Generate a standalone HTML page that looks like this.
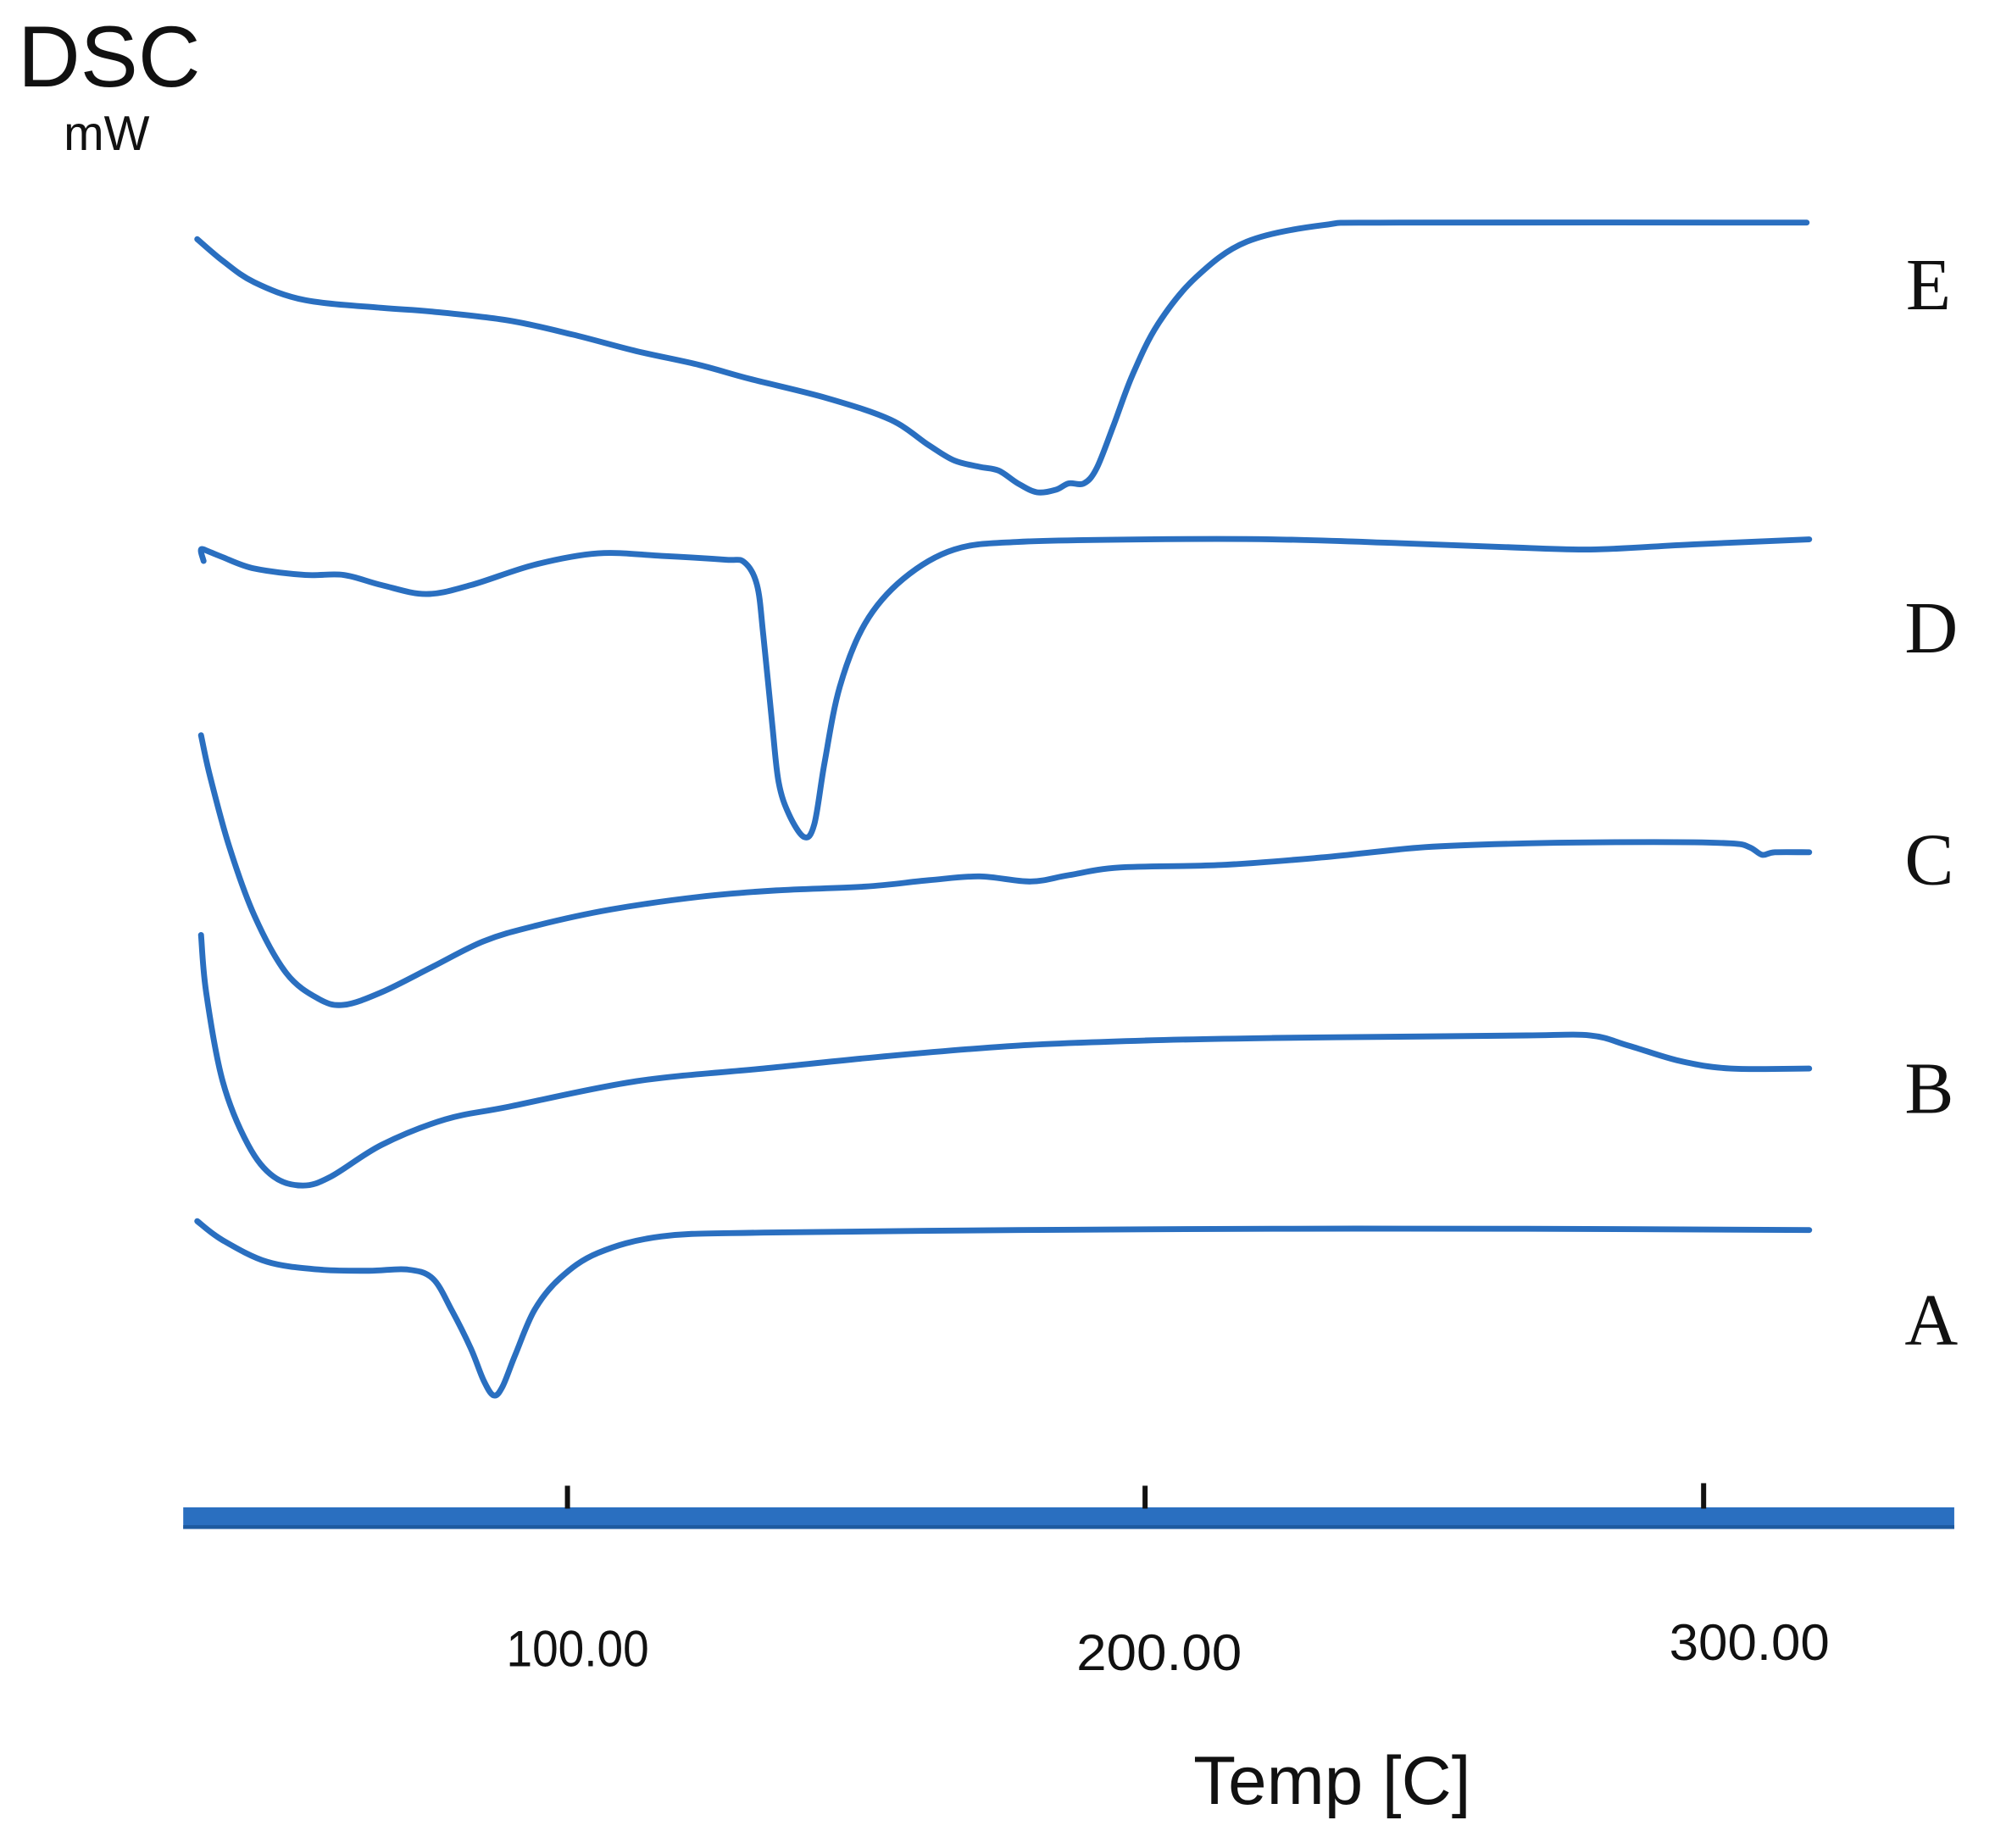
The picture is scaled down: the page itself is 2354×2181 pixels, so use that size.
<!DOCTYPE html>
<html><head><meta charset="utf-8"><style>
html,body{margin:0;padding:0;background:#fff;}
svg{display:block;}
</style></head><body>
<svg id="s" width="2354" height="2181" viewBox="0 0 1568 1452.8" xmlns="http://www.w3.org/2000/svg">
<rect width="1568" height="1453" fill="#fff"/>
<text x="14" y="68" font-family="Liberation Sans, sans-serif" font-size="68" fill="#111">DSC</text>
<text x="50" y="118" font-family="Liberation Sans, sans-serif" font-size="38" fill="#111">mW</text>
<g id="curves" fill="none" stroke="#2a6fc0" stroke-width="4.6" stroke-linejoin="round" stroke-linecap="round">
<polyline points="155,188 175,205 200,222 240,236 300,242 340,245 400,252 450,263 500,276 550,287 590,298 650,313 700,330 730,350 750,362 770,367 785,370 800,380 815,387 830,385 840,380 852,380 862,368 875,335 890,295 910,255 940,218 980,190 1040,177 1100,175 1420,175"/>
<polyline points="160,441 158,432 165,434 175,438 200,447 240,452 270,452 300,460 335,467 370,460 420,444 470,435 520,437 570,440 585,442 595,460 600,500 607,570 612,615 620,640 632,658 640,648 648,600 660,540 680,490 710,455 750,432 800,426 900,424 1000,424 1100,427 1180,430 1250,432 1330,428 1422,424"/>
<polyline points="158,578 165,610 180,665 200,720 225,765 250,785 270,790 300,780 340,760 380,740 420,728 480,715 550,705 610,700 680,697 730,692 770,689 810,693 840,688 880,682 960,680 1040,674 1120,666 1200,663 1300,662 1360,663 1375,666 1385,672 1395,670 1422,670"/>
<polyline points="158,735 162,780 175,850 195,900 215,925 238,932 260,925 300,900 350,880 400,870 500,850 600,840 700,830 800,822 900,818 1000,816 1100,815 1200,814 1250,814 1280,822 1320,834 1360,840 1422,840"/>
<polyline points="155,960 175,975 210,992 250,998 290,999 320,998 340,1005 355,1030 370,1060 380,1085 388,1097 395,1090 405,1065 420,1030 440,1005 470,985 520,972 600,969 800,967 1000,966 1200,966 1422,967"/>
</g>
<g font-family="Liberation Serif, serif" font-size="58" fill="#111">
<text x="1498" y="243">E</text>
<text x="1497" y="513">D</text>
<text x="1497" y="695">C</text>
<text x="1497" y="875">B</text>
<text x="1497" y="1057">A</text>
</g>
<rect x="144" y="1185" width="1392" height="17" fill="#2a6fc0"/>
<rect x="144" y="1199" width="1392" height="3" fill="#1d5aa0"/>
<rect x="444" y="1168" width="4" height="18" fill="#111"/>
<rect x="898" y="1168" width="4" height="18" fill="#111"/>
<rect x="1337" y="1166" width="4" height="20" fill="#111"/>
<g font-family="Liberation Sans, sans-serif" font-size="40" fill="#111">
<text x="398" y="1310" textLength="112" lengthAdjust="spacingAndGlyphs">100.00</text>
<text x="846" y="1313" textLength="130" lengthAdjust="spacingAndGlyphs">200.00</text>
<text x="1312" y="1305" textLength="126" lengthAdjust="spacingAndGlyphs">300.00</text>
</g>
<text x="938" y="1418" font-family="Liberation Sans, sans-serif" font-size="54" fill="#111" textLength="218" lengthAdjust="spacingAndGlyphs">Temp [C]</text>
</svg>
<script>
(function(){
var g=document.getElementById('curves');
var pls=[].slice.call(g.querySelectorAll('polyline'));
pls.forEach(function(pl){
 var p=pl.getAttribute('points').trim().split(/\s+/).map(function(s){var a=s.split(',');return [+a[0],+a[1]];});
 var d='M'+p[0][0]+','+p[0][1];
 for(var i=0;i<p.length-1;i++){
  var p0=p[i-1]||p[i],p1=p[i],p2=p[i+1],p3=p[i+2]||p2;
  var t=0.5/3;
  var c1=[p1[0]+(p2[0]-p0[0])*t,p1[1]+(p2[1]-p0[1])*t];
  var c2=[p2[0]-(p3[0]-p1[0])*t,p2[1]-(p3[1]-p1[1])*t];
  d+=' C'+c1[0].toFixed(1)+','+c1[1].toFixed(1)+' '+c2[0].toFixed(1)+','+c2[1].toFixed(1)+' '+p2[0]+','+p2[1];
 }
 var path=document.createElementNS('http://www.w3.org/2000/svg','path');
 path.setAttribute('d',d);
 g.replaceChild(path,pl);
});
})();
</script>
</body></html>
